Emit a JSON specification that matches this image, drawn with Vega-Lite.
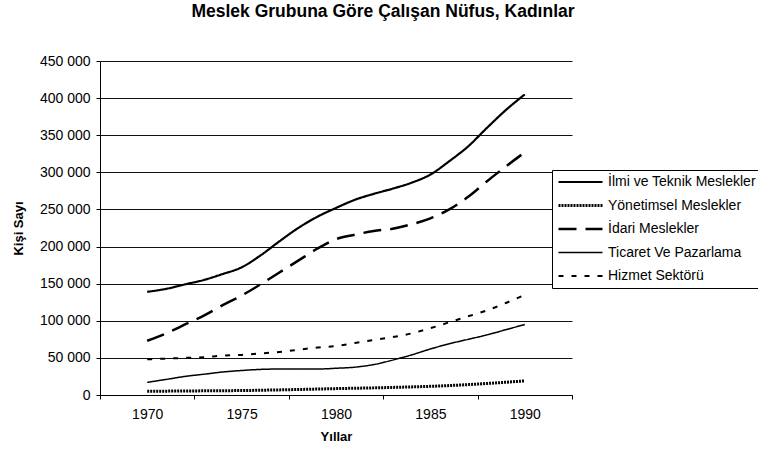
{
"$schema": "https://vega.github.io/schema/vega-lite/v6.json",
"width": 472, "height": 334,
"autosize": {"type": "none"},
"padding": {"left": 100, "top": 61, "right": 186, "bottom": 60},
"background": "white",
"title": {"text": "Meslek Grubuna Göre Çalışan Nüfus, Kadınlar", "font": "Liberation Sans", "fontSize": 17.5, "fontWeight": "bold", "anchor": "middle", "frame": "group", "dx": 47, "offset": 34, "color": "black"},
"config": {"view": {"stroke": null}, "font": "Liberation Sans",
  "legend": {"title": null, "orient": "none", "strokeColor": "black", "fillColor": "white", "padding": 5, "symbolSize": 121, "symbolType": "M-1,0H7", "labelFont": "Liberation Sans", "labelFontSize": 14, "labelColor": "black", "labelOffset": 37, "rowPadding": 9.5, "labelLimit": 300}},
"data": {"values": [
{"yil":1970,"grup":"İlmi ve Teknik Meslekler","kisi":139000},
{"yil":1971,"grup":"İlmi ve Teknik Meslekler","kisi":143000},
{"yil":1972,"grup":"İlmi ve Teknik Meslekler","kisi":149000},
{"yil":1973,"grup":"İlmi ve Teknik Meslekler","kisi":155000},
{"yil":1974,"grup":"İlmi ve Teknik Meslekler","kisi":163000},
{"yil":1975,"grup":"İlmi ve Teknik Meslekler","kisi":172000},
{"yil":1976,"grup":"İlmi ve Teknik Meslekler","kisi":188000},
{"yil":1977,"grup":"İlmi ve Teknik Meslekler","kisi":207000},
{"yil":1978,"grup":"İlmi ve Teknik Meslekler","kisi":225000},
{"yil":1979,"grup":"İlmi ve Teknik Meslekler","kisi":240000},
{"yil":1980,"grup":"İlmi ve Teknik Meslekler","kisi":252000},
{"yil":1981,"grup":"İlmi ve Teknik Meslekler","kisi":263000},
{"yil":1982,"grup":"İlmi ve Teknik Meslekler","kisi":271000},
{"yil":1983,"grup":"İlmi ve Teknik Meslekler","kisi":278000},
{"yil":1984,"grup":"İlmi ve Teknik Meslekler","kisi":286000},
{"yil":1985,"grup":"İlmi ve Teknik Meslekler","kisi":297000},
{"yil":1986,"grup":"İlmi ve Teknik Meslekler","kisi":315000},
{"yil":1987,"grup":"İlmi ve Teknik Meslekler","kisi":335000},
{"yil":1988,"grup":"İlmi ve Teknik Meslekler","kisi":360000},
{"yil":1989,"grup":"İlmi ve Teknik Meslekler","kisi":384000},
{"yil":1990,"grup":"İlmi ve Teknik Meslekler","kisi":405000},
{"yil":1970,"grup":"Yönetimsel Meslekler","kisi":5000},
{"yil":1971,"grup":"Yönetimsel Meslekler","kisi":5200},
{"yil":1972,"grup":"Yönetimsel Meslekler","kisi":5400},
{"yil":1973,"grup":"Yönetimsel Meslekler","kisi":5600},
{"yil":1974,"grup":"Yönetimsel Meslekler","kisi":5800},
{"yil":1975,"grup":"Yönetimsel Meslekler","kisi":6000},
{"yil":1976,"grup":"Yönetimsel Meslekler","kisi":6400},
{"yil":1977,"grup":"Yönetimsel Meslekler","kisi":6900},
{"yil":1978,"grup":"Yönetimsel Meslekler","kisi":7400},
{"yil":1979,"grup":"Yönetimsel Meslekler","kisi":8000},
{"yil":1980,"grup":"Yönetimsel Meslekler","kisi":8600},
{"yil":1981,"grup":"Yönetimsel Meslekler","kisi":9100},
{"yil":1982,"grup":"Yönetimsel Meslekler","kisi":9600},
{"yil":1983,"grup":"Yönetimsel Meslekler","kisi":10200},
{"yil":1984,"grup":"Yönetimsel Meslekler","kisi":10900},
{"yil":1985,"grup":"Yönetimsel Meslekler","kisi":11700},
{"yil":1986,"grup":"Yönetimsel Meslekler","kisi":12700},
{"yil":1987,"grup":"Yönetimsel Meslekler","kisi":14000},
{"yil":1988,"grup":"Yönetimsel Meslekler","kisi":15500},
{"yil":1989,"grup":"Yönetimsel Meslekler","kisi":17200},
{"yil":1990,"grup":"Yönetimsel Meslekler","kisi":19000},
{"yil":1970,"grup":"İdari Meslekler","kisi":73000},
{"yil":1971,"grup":"İdari Meslekler","kisi":83000},
{"yil":1972,"grup":"İdari Meslekler","kisi":95000},
{"yil":1973,"grup":"İdari Meslekler","kisi":107000},
{"yil":1974,"grup":"İdari Meslekler","kisi":121000},
{"yil":1975,"grup":"İdari Meslekler","kisi":134000},
{"yil":1976,"grup":"İdari Meslekler","kisi":149000},
{"yil":1977,"grup":"İdari Meslekler","kisi":165000},
{"yil":1978,"grup":"İdari Meslekler","kisi":181000},
{"yil":1979,"grup":"İdari Meslekler","kisi":197000},
{"yil":1980,"grup":"İdari Meslekler","kisi":210000},
{"yil":1981,"grup":"İdari Meslekler","kisi":216000},
{"yil":1982,"grup":"İdari Meslekler","kisi":221000},
{"yil":1983,"grup":"İdari Meslekler","kisi":224000},
{"yil":1984,"grup":"İdari Meslekler","kisi":230000},
{"yil":1985,"grup":"İdari Meslekler","kisi":238000},
{"yil":1986,"grup":"İdari Meslekler","kisi":250000},
{"yil":1987,"grup":"İdari Meslekler","kisi":267000},
{"yil":1988,"grup":"İdari Meslekler","kisi":288000},
{"yil":1989,"grup":"İdari Meslekler","kisi":308000},
{"yil":1990,"grup":"İdari Meslekler","kisi":327000},
{"yil":1970,"grup":"Ticaret Ve Pazarlama","kisi":17000},
{"yil":1971,"grup":"Ticaret Ve Pazarlama","kisi":21000},
{"yil":1972,"grup":"Ticaret Ve Pazarlama","kisi":25000},
{"yil":1973,"grup":"Ticaret Ve Pazarlama","kisi":28000},
{"yil":1974,"grup":"Ticaret Ve Pazarlama","kisi":31000},
{"yil":1975,"grup":"Ticaret Ve Pazarlama","kisi":33000},
{"yil":1976,"grup":"Ticaret Ve Pazarlama","kisi":34500},
{"yil":1977,"grup":"Ticaret Ve Pazarlama","kisi":35000},
{"yil":1978,"grup":"Ticaret Ve Pazarlama","kisi":35000},
{"yil":1979,"grup":"Ticaret Ve Pazarlama","kisi":35000},
{"yil":1980,"grup":"Ticaret Ve Pazarlama","kisi":36000},
{"yil":1981,"grup":"Ticaret Ve Pazarlama","kisi":37500},
{"yil":1982,"grup":"Ticaret Ve Pazarlama","kisi":41000},
{"yil":1983,"grup":"Ticaret Ve Pazarlama","kisi":47000},
{"yil":1984,"grup":"Ticaret Ve Pazarlama","kisi":54000},
{"yil":1985,"grup":"Ticaret Ve Pazarlama","kisi":62000},
{"yil":1986,"grup":"Ticaret Ve Pazarlama","kisi":69000},
{"yil":1987,"grup":"Ticaret Ve Pazarlama","kisi":75000},
{"yil":1988,"grup":"Ticaret Ve Pazarlama","kisi":81000},
{"yil":1989,"grup":"Ticaret Ve Pazarlama","kisi":88000},
{"yil":1990,"grup":"Ticaret Ve Pazarlama","kisi":95000},
{"yil":1970,"grup":"Hizmet Sektörü","kisi":48000},
{"yil":1971,"grup":"Hizmet Sektörü","kisi":49000},
{"yil":1972,"grup":"Hizmet Sektörü","kisi":50000},
{"yil":1973,"grup":"Hizmet Sektörü","kisi":51000},
{"yil":1974,"grup":"Hizmet Sektörü","kisi":53000},
{"yil":1975,"grup":"Hizmet Sektörü","kisi":54000},
{"yil":1976,"grup":"Hizmet Sektörü","kisi":56000},
{"yil":1977,"grup":"Hizmet Sektörü","kisi":58000},
{"yil":1978,"grup":"Hizmet Sektörü","kisi":61000},
{"yil":1979,"grup":"Hizmet Sektörü","kisi":64000},
{"yil":1980,"grup":"Hizmet Sektörü","kisi":66000},
{"yil":1981,"grup":"Hizmet Sektörü","kisi":70000},
{"yil":1982,"grup":"Hizmet Sektörü","kisi":74000},
{"yil":1983,"grup":"Hizmet Sektörü","kisi":78000},
{"yil":1984,"grup":"Hizmet Sektörü","kisi":83000},
{"yil":1985,"grup":"Hizmet Sektörü","kisi":90000},
{"yil":1986,"grup":"Hizmet Sektörü","kisi":98000},
{"yil":1987,"grup":"Hizmet Sektörü","kisi":106000},
{"yil":1988,"grup":"Hizmet Sektörü","kisi":114000},
{"yil":1989,"grup":"Hizmet Sektörü","kisi":124000},
{"yil":1990,"grup":"Hizmet Sektörü","kisi":135000}
]},
"mark": {"type": "line", "interpolate": "monotone"},
"encoding": {
  "x": {"field": "yil", "type": "quantitative",
    "scale": {"domain": [1967.5, 1992.5], "nice": false, "zero": false},
    "axis": {"title": "Yıllar", "values": [1967.5,1970,1972.5,1975,1977.5,1980,1982.5,1985,1987.5,1990,1992.5],
      "labelExpr": "datum.value % 5 == 0 ? format(datum.value, 'd') : ''",
      "tickOpacity": {"condition": {"test": "datum.value % 5 == 0", "value": 0}, "value": 1},
      "tickSize": 4, "tickColor": "black", "domainColor": "black", "grid": false,
      "labelOverlap": false, "labelFlush": false,
      "labelFont": "Liberation Sans", "labelFontSize": 14, "labelColor": "black", "labelPadding": 8,
      "titleFont": "Liberation Sans", "titleFontSize": 13, "titleFontWeight": "bold", "titleColor": "black", "titlePadding": 9}},
  "y": {"field": "kisi", "type": "quantitative",
    "scale": {"domain": [0, 450000], "nice": false},
    "axis": {"title": "Kişi Sayı", "values": [0,50000,100000,150000,200000,250000,300000,350000,400000,450000],
      "labelExpr": "replace(format(datum.value, ','), ',', ' ')",
      "grid": true, "gridColor": "#111111", "gridWidth": 1,
      "tickSize": 4, "tickColor": "black", "domainColor": "black",
      "labelFont": "Liberation Sans", "labelFontSize": 14, "labelColor": "black", "labelPadding": 6,
      "titleFont": "Liberation Sans", "titleFontSize": 13, "titleFontWeight": "bold", "titleColor": "black", "titlePadding": 14}},
  "color": {"field": "grup", "type": "nominal",
    "scale": {"domain": ["İlmi ve Teknik Meslekler","Yönetimsel Meslekler","İdari Meslekler","Ticaret Ve Pazarlama","Hizmet Sektörü"], "range": ["black","black","black","black","black"]},
    "legend": {"legendX": 452, "legendY": 109}},
  "strokeDash": {"field": "grup", "type": "nominal",
    "scale": {"domain": ["İlmi ve Teknik Meslekler","Yönetimsel Meslekler","İdari Meslekler","Ticaret Ve Pazarlama","Hizmet Sektörü"], "range": [[1,0],[2,1],[18,9],[1,0],[5,8]]},
    "legend": {"legendX": 452, "legendY": 109}},
  "strokeWidth": {"field": "grup", "type": "nominal",
    "scale": {"type": "ordinal", "domain": ["İlmi ve Teknik Meslekler","Yönetimsel Meslekler","İdari Meslekler","Ticaret Ve Pazarlama","Hizmet Sektörü"], "range": [2.2,3,2.5,1.5,2]},
    "legend": {"legendX": 452, "legendY": 109}}
}
}
